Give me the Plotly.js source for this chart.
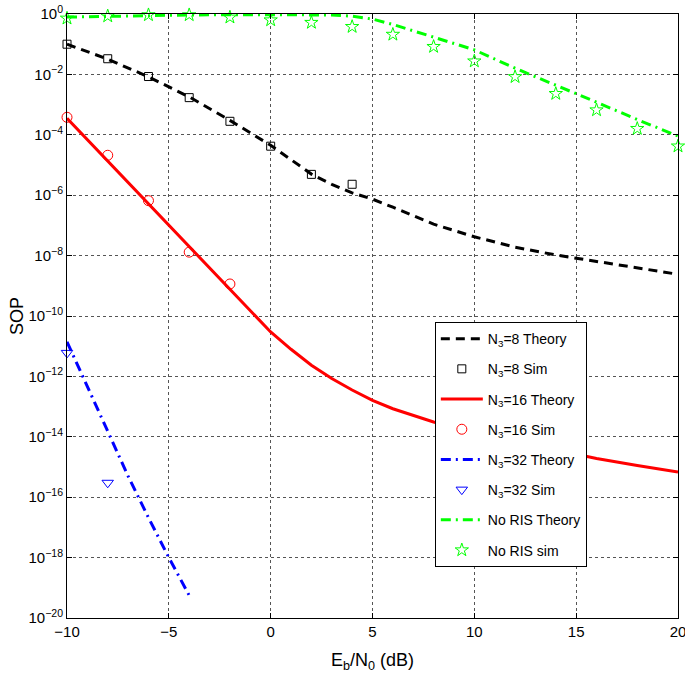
<!DOCTYPE html>
<html>
<head>
<meta charset="utf-8">
<script src="https://cdn.plot.ly/plotly-3.0.1.min.js"></script>
<style>html,body{margin:0;padding:0;background:#fff;}#chart{width:685px;height:683px;}</style>
</head>
<body>
<div id="chart"></div>
<script>
// ---- data ----
const n8TheoryX = [-10,-8,-6,-4,-2,0,2,3,4,5,6,8,10,12,14,16,18,20];
const n8TheoryY = [1.0e-1,3.2e-2,8.3e-3,1.8e-3,3.0e-4,4.5e-5,5.0e-6,2.3e-6,1.2e-6,7.4e-7,4.0e-7,1.1e-7,4.2e-8,1.9e-8,1.05e-8,6.3e-9,3.8e-9,2.4e-9];
const n8SimX = [-10,-8,-6,-4,-2,0,2,4];
const n8SimY = [1.0e-1,3.3e-2,8.5e-3,1.7e-3,2.8e-4,4.2e-5,4.9e-6,2.3e-6];

const n16TheoryX = [-10,-8,-6,-4,-2,0,1,2,3,4,5,6,8,10,12,14,16,18,20];
const n16TheoryY = [3.5e-4,1.35e-5,5.1e-7,2.0e-8,7.6e-10,2.95e-11,7.9e-12,2.35e-12,8.5e-13,3.55e-13,1.62e-13,8.5e-14,3.1e-14,1.4e-14,7.1e-15,3.7e-15,1.9e-15,1.12e-15,6.8e-16];
const n16SimX = [-10,-8,-6,-4,-2];
const n16SimY = [3.8e-4,2.1e-5,6.6e-7,1.3e-8,1.15e-9];

const n32TheoryX = [-10,-9,-8,-7,-6,-5,-4];
const n32TheoryY = [1.4e-11,4.7e-13,1.4e-14,5.0e-16,2.1e-17,1.0e-18,5.6e-20];
const n32SimX = [-10,-8];
const n32SimY = [6e-12,3e-16];

const noRisTheoryX = [-10,-8,-6,-4,-2,0,2,3,4,5,6,7,8,10,12,14,16,18,20];
const noRisTheoryY = [0.79,0.85,0.89,0.93,0.95,0.95,0.95,0.93,0.85,0.68,0.45,0.28,0.17,6.5e-2,1.6e-2,4.5e-3,1.2e-3,3.2e-4,9.1e-5];
const noRisSimX = [-10,-8,-6,-4,-2,0,2,4,6,8,10,12,14,16,18,20];
const noRisSimY = [0.72,0.85,0.93,0.93,0.78,0.63,0.52,0.38,0.21,8.3e-2,2.75e-2,8.3e-3,2.3e-3,6.6e-4,1.6e-4,4.2e-5];

const legendNames = ["N<sub>3</sub>=8 Theory","N<sub>3</sub>=8 Sim","N<sub>3</sub>=16 Theory","N<sub>3</sub>=16 Sim","N<sub>3</sub>=32 Theory","N<sub>3</sub>=32 Sim","No RIS Theory","No RIS sim"];

const xTickVals = [-10,-5,0,5,10,15,20];
const xTickText = ["\u221210","\u22125","0","5","10","15","20"];
const yTickVals = [1e0,1e-2,1e-4,1e-6,1e-8,1e-10,1e-12,1e-14,1e-16,1e-18,1e-20];
const yTickText = ["10<sup>0</sup>","10<sup>\u22122</sup>","10<sup>\u22124</sup>","10<sup>\u22126</sup>","10<sup>\u22128</sup>","10<sup>\u221210</sup>","10<sup>\u221212</sup>","10<sup>\u221214</sup>","10<sup>\u221216</sup>","10<sup>\u221218</sup>","10<sup>\u221220</sup>"];

const DASH = "9px,6px";
const DASHDOT = "10px,5px,2px,5px";

function lineTrace(x, y, name, color, dash, g) {
  return {x: x, y: y, name: name, type: 'scatter', mode: 'lines', legendgroup: g,
          line: {color: color, width: 3, dash: dash}, cliponaxis: false};
}
function simTrace(x, y, name, color, symbol, size, g) {
  return {x: x, y: y, name: name, type: 'scatter', mode: 'markers', legendgroup: g,
          marker: {color: color, symbol: symbol, size: size, line: {color: color, width: 1}}, cliponaxis: false};
}

const traces = [
  lineTrace(n8TheoryX, n8TheoryY, legendNames[0], '#000000', DASH, 'g1'),
  simTrace(n8SimX, n8SimY, legendNames[1], '#000000', 'square-open', 8, 'g2'),
  lineTrace(n16TheoryX, n16TheoryY, legendNames[2], '#ff0000', 'solid', 'g3'),
  simTrace(n16SimX, n16SimY, legendNames[3], '#ff0000', 'circle-open', 10, 'g4'),
  lineTrace(n32TheoryX, n32TheoryY, legendNames[4], '#0000ff', DASHDOT, 'g5'),
  simTrace(n32SimX, n32SimY, legendNames[5], '#0000ff', 'triangle-down-open', 10, 'g6'),
  lineTrace(noRisTheoryX, noRisTheoryY, legendNames[6], '#00ff00', DASHDOT, 'g7'),
  simTrace(noRisSimX, noRisSimY, legendNames[7], '#00ff00', 'star-open', 10, 'g8')
];

const font = {family: 'Liberation Sans, Arial, sans-serif', size: 14, color: '#000'};

const layout = {
  width: 685, height: 683,
  margin: {l: 67, r: 7, t: 14, b: 65, pad: 0},
  paper_bgcolor: '#fff', plot_bgcolor: '#fff',
  font: font,
  showlegend: true,
  legend: {x: 0.602, y: 0.49, xanchor: 'left', yanchor: 'top',
           bgcolor: '#fff', bordercolor: '#000', borderwidth: 1,
           font: {family: 'Liberation Sans, Arial, sans-serif', size: 14, color: '#000'},
           tracegroupgap: 9, itemwidth: 42},
  xaxis: {
    range: [-10, 20], tickmode: 'array', tickvals: xTickVals, ticktext: xTickText,
    ticks: 'inside', ticklen: 5, tickcolor: '#000', showline: true, linecolor: '#000', linewidth: 1,
    mirror: 'ticks', showgrid: true, gridcolor: '#555', griddash: 'dot', gridwidth: 1,
    zeroline: false, tickfont: {size: 15}, ticklabeloverflow: 'allow',
    title: {text: 'E<sub>b</sub>/N<sub>0</sub> (dB)', font: {size: 18}, standoff: 14}
  },
  yaxis: {
    type: 'log', range: [-20, 0], tickmode: 'array', tickvals: yTickVals, ticktext: yTickText,
    ticks: 'inside', ticklen: 5, tickcolor: '#000', showline: true, linecolor: '#000', linewidth: 1,
    mirror: 'ticks', showgrid: true, gridcolor: '#555', griddash: 'dot', gridwidth: 1,
    zeroline: false, tickfont: {size: 15},
    title: {text: 'SOP', font: {size: 18}, standoff: 0}
  }
};

Plotly.newPlot('chart', traces, layout, {displayModeBar: false, staticPlot: true});
</script>
</body>
</html>
